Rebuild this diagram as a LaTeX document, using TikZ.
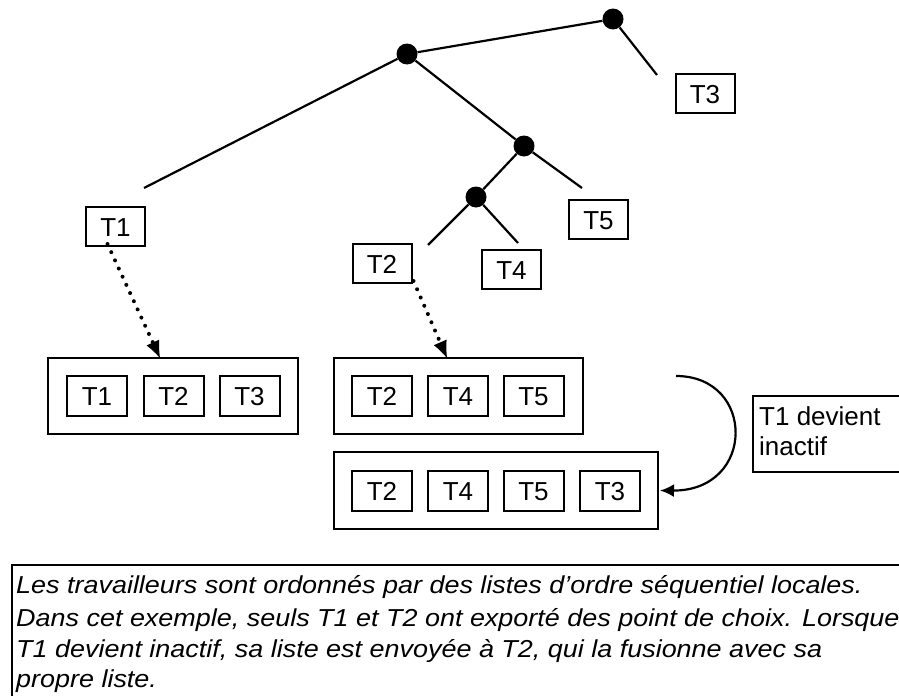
\documentclass[tikz,border=0pt]{standalone}
\usepackage{fontspec}
\setmainfont{Liberation Sans}
\usetikzlibrary{arrows.meta}
\tikzset{
  dotnode/.style={circle,fill=black,inner sep=0pt,minimum size=21pt},
  leaf/.style={draw,line width=2pt,minimum width=59pt,minimum height=39pt,inner sep=0pt,text height=19pt,text depth=0pt,font=\fontsize{26}{30}\selectfont},
  item/.style={draw,line width=2pt,minimum width=60pt,minimum height=40pt,inner sep=0pt,text height=19pt,text depth=0pt,font=\fontsize{26}{30}\selectfont},
  listbox/.style={draw,line width=2pt,minimum height=76pt,inner sep=0pt},
  branch/.style={line width=2.2pt},
  dotarrow/.style={line width=4pt,dash pattern=on 0pt off 9pt,line cap=round,-{Latex[length=17pt,width=14pt,line width=0pt]}},
  bendarrow/.style={line width=2.2pt,-{Latex[length=14pt,width=13pt]}},
  captext/.style={anchor=base west,inner sep=0pt,font=\fontsize{24.5}{30}\selectfont\itshape},
  sidetext/.style={anchor=base west,inner sep=0pt,font=\fontsize{26}{30}\selectfont}
}
\newcommand{\capline}[1]{\scalebox{1.1}[1]{#1}}
\begin{document}
\begin{tikzpicture}[x=1pt,y=-1pt]
\useasboundingbox (0,0) rectangle (899,696);
% tree
\node[dotnode] (D1) at (407,54) {};
\node[dotnode] (D2) at (613,19) {};
\node[dotnode] (D3) at (524,146) {};
\node[dotnode] (D4) at (476,197) {};
\coordinate (e3) at (657,75);
\coordinate (e1) at (144,188);
\coordinate (e5) at (582,188);
\coordinate (e2) at (428,245);
\coordinate (e4) at (518,243);
\draw[branch] (D1) -- (D2);
\draw[branch] (D2) -- (e3);
\draw[branch] (D1) -- (e1);
\draw[branch] (D1) -- (D3);
\draw[branch] (D3) -- (e5);
\draw[branch] (D3) -- (D4);
\draw[branch] (D4) -- (e2);
\draw[branch] (D4) -- (e4);
% leaves
\node[leaf] (lT3) at (705,93.5) {T3};
\node[leaf] (lT1) at (115.5,226.5) {T1};
\node[leaf] (lT2) at (382,263.5) {T2};
\node[leaf] (lT5) at (598.5,219.5) {T5};
\node[leaf] (lT4) at (511.5,269.5) {T4};
% lists
\node[listbox,minimum width=250pt] (L1) at (173,396) {};
\node[item] (a1) at (97,396) {T1};
\node[item] (a2) at (173.5,396) {T2};
\node[item] (a3) at (249.5,396) {T3};
\node[listbox,minimum width=249pt] (L2) at (458.5,396) {};
\node[item] (b1) at (382,396) {T2};
\node[item] (b2) at (458,396) {T4};
\node[item] (b3) at (533.5,396) {T5};
\node[listbox,minimum width=324pt,minimum height=77pt] (L3) at (496,490.5) {};
\node[item] (c1) at (382,490.5) {T2};
\node[item] (c2) at (458,490.5) {T4};
\node[item] (c3) at (533.5,490.5) {T5};
\node[item] (c4) at (610,490.5) {T3};
% dotted arrows
\draw[dotarrow] ([xshift=-8pt,yshift=3pt]lT1.south) -- ([xshift=-13pt,yshift=-1pt]L1.north);
\draw[dotarrow] ([xshift=1pt,yshift=3pt]lT2.south east) -- ([xshift=-11.5pt,yshift=-1pt]L2.north);
% bend arrow
\coordinate (bs) at (676,376);
\draw[bendarrow] (bs) .. controls (756,376) and (756,491) .. ([xshift=1pt]L3.east);
% side label
\draw[line width=2pt] (899,396) -- (753,396) -- (753,472) -- (899,472);
\node[sidetext] (s1) at (759,425) {T1 devient};
\node[sidetext] (s2) at (759,455) {inactif};
% caption
\draw[line width=2pt] (899,565) -- (12,565) -- (12,696);
\node[captext] (c1l) at (16,593) {\capline{Les travailleurs sont ordonnés par des listes d’ordre séquentiel locales.}};
\node[captext] (c2l) at (16,626) {\capline{Dans cet exemple, seuls T1 et T2 ont exporté des point de choix. Lorsque}};
\node[captext] (c3l) at (16,657) {\capline{T1 devient inactif, sa liste est envoyée à T2, qui la fusionne avec sa}};
\node[captext] (c4l) at (16,687) {\capline{propre liste.}};
\end{tikzpicture}
\end{document}
